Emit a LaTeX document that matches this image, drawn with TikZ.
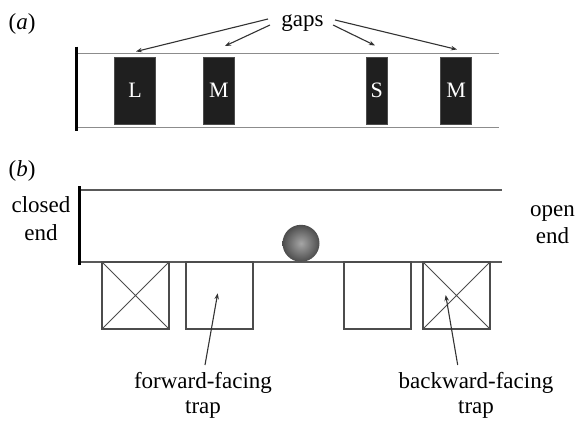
\documentclass[tikz,border=0pt]{standalone}
\usepackage{fontspec}
\setmainfont{Liberation Serif}
\usetikzlibrary{arrows.meta}
\begin{document}
\begin{tikzpicture}[x=1pt,y=-1pt,
  lbl/.style={font=\fontsize{23}{27}\selectfont, inner sep=0pt, anchor=base},
  wallA/.style={draw=black!45, line width=1.3pt},
  wallB/.style={draw=black!65, line width=1.4pt},
  endwall/.style={draw=black, line width=3pt},
  gapbox/.style={fill=black!88, draw=black!70, line width=0.6pt, text=white,
    inner sep=0pt, outer sep=0pt, minimum height=67pt,
    font=\fontsize{22}{26}\selectfont},
  trapbox/.style={draw=black!70, line width=1.1pt, inner sep=0pt, outer sep=0pt,
    minimum width=67pt, minimum height=67pt},
  pointer/.style={draw=black!80, line width=1.1pt, -{Stealth[length=6pt,width=4.5pt]}}
]
\useasboundingbox (0,0) rectangle (576,423);

% ---------- panel (a): tube with obstacles ----------
\node[lbl] (la) at (22,30) {(\textit{a})};
\draw[wallA] (77,53.3) -- (499,53.3);
\draw[wallA] (77,127.7) -- (499,127.7);
\draw[endwall] (76.7,46.7) -- (76.7,130.7);

\node[gapbox, minimum width=41.4pt] (gL)  at (135,90.3)   {L};
\node[gapbox, minimum width=31pt]   (gM1) at (218.8,90.3) {M};
\node[gapbox, minimum width=21.3pt] (gS)  at (376.7,90.3) {S};
\node[gapbox, minimum width=31pt]   (gM2) at (456.2,90.3) {M};

\node[lbl] (gaps) at (302.5,26.7) {gaps};
\coordinate (tL)  at (136,51.5);
\coordinate (tM1) at (225,46);
\coordinate (tS)  at (375,45.5);
\coordinate (tM2) at (457,49.5);
\draw[pointer] ([xshift=-34.5pt,yshift=7.7pt]gaps.base) -- (tL);
\draw[pointer] ([xshift=-32.5pt,yshift=1.7pt]gaps.base) -- (tM1);
\draw[pointer] ([xshift=30.5pt,yshift=1.7pt]gaps.base) -- (tS);
\draw[pointer] ([xshift=32.5pt,yshift=6.7pt]gaps.base) -- (tM2);

% ---------- panel (b): tube with traps ----------
\node[lbl] (lb) at (22,176) {(\textit{b})};
\draw[wallB] (79,190) -- (502,190);
\draw[wallB] (79,262) -- (502,262);
\draw[endwall] (79.3,186) -- (79.3,265);

\node[lbl] (closed) at (41,212.7) {closed};
\node[lbl] (cend)   at (41,240)   {end};
\node[lbl] (open)   at (552.5,216) {open};
\node[lbl] (oend)   at (552.5,243) {end};

% the ball inside the tube
\shade[inner color=black!35, outer color=black!70] (301,243.3) circle (18.5pt);

\node[trapbox] (t1) at (135.5,295.5) {};
\node[trapbox] (t2) at (219.5,295.5) {};
\node[trapbox] (t3) at (377.5,295.5) {};
\node[trapbox] (t4) at (456.5,295.5) {};
\draw[black!70, line width=0.9pt] (t1.north west) -- (t1.south east) (t1.north east) -- (t1.south west);
\draw[black!70, line width=0.9pt] (t4.north west) -- (t4.south east) (t4.north east) -- (t4.south west);

\node[lbl] (ff) at (203,388) {forward-facing};
\node[lbl] (fft) at (203,413) {trap};
\node[lbl] (bf) at (476,388) {backward-facing};
\node[lbl] (bft) at (476,413) {trap};

\coordinate (fftip) at (217.7,293.3);
\coordinate (bftip) at (445.7,295);
\draw[pointer] ([xshift=2pt,yshift=23pt]ff.base) -- (fftip);
\draw[pointer] ([xshift=-18.3pt,yshift=23pt]bf.base) -- (bftip);
\end{tikzpicture}
\end{document}
